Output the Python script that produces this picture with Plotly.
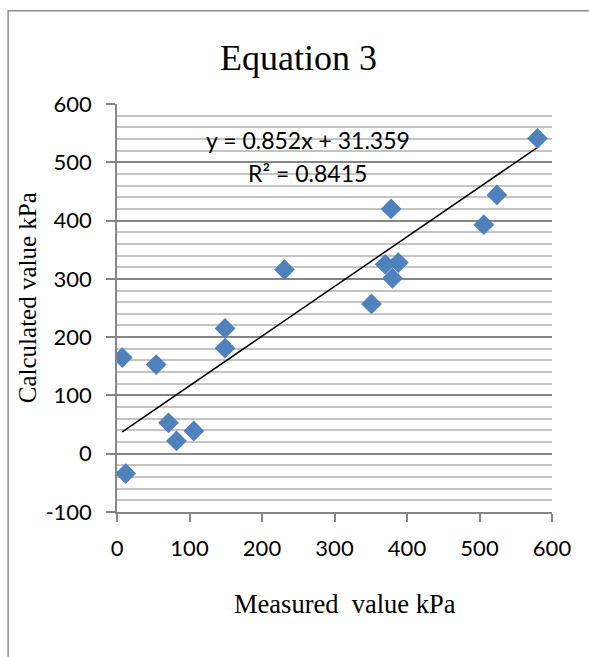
import plotly.graph_objects as go

measured = [7.3, 12, 54, 71, 82, 106, 149, 149, 231, 351, 378, 370, 388, 380, 506, 524, 580]
calculated = [165, -34, 153, 53, 22, 39, 215, 181, 316, 257, 420, 325, 328, 301, 393, 444, 541]
slope, intercept = 0.852, 31.359
x_ticks = [0, 100, 200, 300, 400, 500, 600]
y_ticks = [-100, 0, 100, 200, 300, 400, 500, 600]

W, H = 589, 657
L, R, T, B = 117, 36.5, 103.5, 144.7
pw, ph = W - L - R, H - T - B

def px(xp):
    return (xp - L) / pw

def py(yp):
    return (H - B - yp) / ph

xmin, xmax = min(measured), max(measured)
trend_x = [xmin, xmax]
trend_y = [slope * v + intercept for v in trend_x]

fig = go.Figure()
fig.add_trace(go.Scatter(
    x=trend_x, y=trend_y, mode="lines",
    line=dict(color="black", width=1.5), showlegend=False, hoverinfo="skip"))
fig.add_trace(go.Scatter(
    x=measured, y=calculated, mode="markers",
    marker=dict(symbol="diamond", size=16, color="#4F81BD", line=dict(width=0)),
    showlegend=False))

tick_font = dict(family="Lato", size=22, color="black")
serif = "Liberation Serif"

fig.update_layout(
    width=W, height=H,
    margin=dict(l=L, r=R, t=T, b=B),
    paper_bgcolor="white", plot_bgcolor="white",
    xaxis=dict(
        range=[0, 600], tickvals=x_ticks, ticktext=[str(v) for v in x_ticks],
        showgrid=False, zeroline=False,
        showline=True, linecolor="#868686", linewidth=1.5,
        ticks="outside", ticklen=8, tickcolor="#868686", tickwidth=1.5,
        tickfont=tick_font, ticklabelstandoff=8),
    yaxis=dict(
        range=[-100, 600], tickvals=y_ticks, ticktext=[str(v) for v in y_ticks],
        showgrid=True, gridcolor="#868686", gridwidth=1.5, zeroline=False,
        showline=True, linecolor="#868686", linewidth=1.5,
        ticks="outside", ticklen=9, tickcolor="#868686", tickwidth=1.5,
        tickfont=tick_font, ticklabelstandoff=10,
        minor=dict(tick0=-100, dtick=20, showgrid=True, gridcolor="#C4C4C4", gridwidth=1.5, ticks="")),
    shapes=[dict(type="rect", xref="paper", yref="paper",
                 x0=px(8), x1=px(620), y0=py(700), y1=py(10),
                 line=dict(color="#8C8C8C", width=1.5), fillcolor="rgba(0,0,0,0)", layer="below")],
    annotations=[
        dict(text="Equation 3", xref="paper", yref="paper", x=px(299), y=py(57),
             showarrow=False, xanchor="center", yanchor="middle",
             font=dict(family=serif, size=36, color="black")),
        dict(text="Measured\u00a0 value kPa", xref="paper", yref="paper", x=px(345), y=py(604),
             showarrow=False, xanchor="center", yanchor="middle",
             font=dict(family=serif, size=26.5, color="black")),
        dict(text="Calculated value kPa", xref="paper", yref="paper", x=px(27), y=py(298),
             showarrow=False, xanchor="center", yanchor="middle", textangle=-90,
             font=dict(family=serif, size=25, color="black")),
        dict(text="y = 0.852x + 31.359", xref="paper", yref="paper", x=px(308), y=py(140),
             showarrow=False, xanchor="center", yanchor="middle",
             font=dict(family="Lato", size=23, color="black")),
        dict(text="R² = 0.8415", xref="paper", yref="paper", x=px(308), y=py(172.7),
             showarrow=False, xanchor="center", yanchor="middle",
             font=dict(family="Lato", size=23, color="black")),
    ],
)

fig.write_html("out.html")
